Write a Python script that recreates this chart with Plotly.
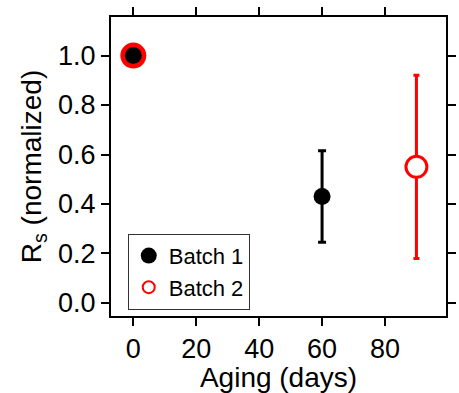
import plotly.graph_objects as go

# Data
batch1_x = [0, 60]
batch1_y = [1.0, 0.43]
batch1_err = [None, 0.185]

batch2_x = [0, 90]
batch2_y = [1.0, 0.55]
batch2_err = [None, 0.37]

x_ticks = [0, 20, 40, 60, 80]
y_ticks = [0.0, 0.2, 0.4, 0.6, 0.8, 1.0]

FONT = "Arial, Liberation Sans, sans-serif"
RED = "#FF0000"

fig = go.Figure()

# data marks (legend entries drawn by legend-only traces below)
fig.add_trace(go.Scatter(
    x=batch2_x, y=batch2_y, mode="markers", name="Batch 2", showlegend=False,
    marker=dict(symbol="circle", size=[21, 21], color="white", opacity=1,
                line=dict(color=RED, width=[5, 3])),
    error_y=dict(type="data", array=batch2_err, color=RED,
                 thickness=3, width=3, visible=True),
))
fig.add_trace(go.Scatter(
    x=batch1_x, y=batch1_y, mode="markers", name="Batch 1", showlegend=False,
    marker=dict(symbol="circle", size=17, color="black", opacity=1,
                line=dict(width=0)),
    error_y=dict(type="data", array=batch1_err, color="black",
                 thickness=3, width=4, visible=True),
))

# legend entries
fig.add_trace(go.Scatter(
    x=[None], y=[None], mode="markers", name="Batch 1", legendrank=1,
    marker=dict(symbol="circle", size=16, color="black", line=dict(width=0)),
))
fig.add_trace(go.Scatter(
    x=[None], y=[None], mode="markers", name="Batch 2", legendrank=2,
    marker=dict(symbol="circle", size=12, color="white",
                line=dict(color=RED, width=2)),
))

axis_common = dict(
    showline=True, linecolor="black", linewidth=2, mirror="ticks",
    ticks="outside", ticklen=8, tickwidth=2, tickcolor="black",
    showgrid=False, zeroline=False,
    tickfont=dict(family=FONT, size=27, color="black"),
)

fig.update_xaxes(
    range=[-7.1, 99.4], tickvals=x_ticks,
    title=dict(text="Aging (days)", font=dict(family=FONT, size=28, color="black"), standoff=4),
    **axis_common,
)
fig.update_yaxes(
    range=[-0.053, 1.156], tickvals=y_ticks, tickformat=".1f",
    title=dict(text="R<sub>s</sub> (normalized)", font=dict(family=FONT, size=28, color="black"), standoff=8),
    **axis_common,
)

fig.update_layout(
    width=459, height=393,
    margin=dict(l=111, r=3, t=17, b=77),
    plot_bgcolor="white", paper_bgcolor="white",
    showlegend=True,
    legend=dict(
        x=0.05, y=0.275, xanchor="left", yanchor="top",
        bgcolor="white", bordercolor="#333333", borderwidth=1,
        font=dict(family=FONT, size=22, color="black"),
        tracegroupgap=0, itemwidth=30,
    ),
)

fig.write_html("out.html")
